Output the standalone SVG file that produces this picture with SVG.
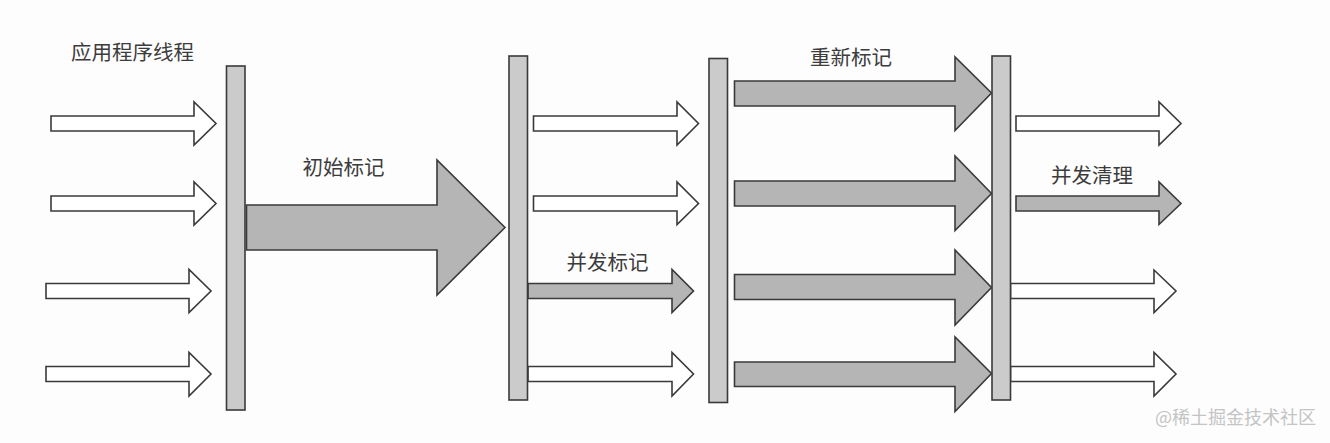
<svg xmlns="http://www.w3.org/2000/svg" width="1330" height="443" viewBox="0 0 1330 443">
<style>
.bg{fill:#fdfdfd}
.bar{fill:#cbcbcb;stroke:#3a3a3a;stroke-width:1.6}
.wa{fill:#ffffff;stroke:#3a3a3a;stroke-width:1.6;stroke-linejoin:miter}
.ga{fill:#b5b5b5;stroke:#3a3a3a;stroke-width:1.6;stroke-linejoin:miter}
.lbl{font-family:"Noto Sans CJK SC","Noto Sans",sans-serif;font-size:20.5px;fill:#3c3c3c}
.wm{font-family:"Noto Sans CJK SC","Noto Sans",sans-serif;font-size:18px;fill:#c4c4c4}
</style>
<rect class="bg" x="0" y="0" width="1330" height="443"/>
<g id="connectors">
  <!-- stage 1: application threads -->
  <polygon class="wa" points="51,116 194,116 194,102 216,123.5 194,145 194,131 51,131"/>
  <polygon class="wa" points="51,196 194,196 194,182 216,203.5 194,225 194,211 51,211"/>
  <polygon class="wa" points="46,283.5 189,283.5 189,269.5 211,291 189,312.5 189,298.5 46,298.5"/>
  <polygon class="wa" points="46,366.5 189,366.5 189,352.5 211,374 189,396 189,381.5 46,381.5"/>
  <!-- initial mark -->
  <polygon class="ga" points="246.5,205 437,205 437,160 505,227.5 437,295 437,250 246.5,250"/>
  <!-- stage 2: concurrent mark -->
  <polygon class="wa" points="533.5,116 677,116 677,102 698.5,123.5 677,145 677,131 533.5,131"/>
  <polygon class="wa" points="533.5,196 677,196 677,182 698.5,203.5 677,224.5 677,211 533.5,211"/>
  <polygon class="ga" points="528,283.5 672,283.5 672,269.5 693.5,291 672,312.5 672,298.5 528,298.5"/>
  <polygon class="wa" points="528,366.5 672,366.5 672,352.5 693.5,374 672,396 672,381.5 528,381.5"/>
  <!-- stage 3: remark -->
  <polygon class="ga" points="734.5,81 955,81 955,57 991.5,93 955,130.5 955,106 734.5,106"/>
  <polygon class="ga" points="734.5,181 955,181 955,156 991.5,193.5 955,230.5 955,206 734.5,206"/>
  <polygon class="ga" points="734.5,274.5 955,274.5 955,250 991.5,287.5 955,325 955,299.5 734.5,299.5"/>
  <polygon class="ga" points="734.5,362 955,362 955,337 991.5,373.5 955,411.5 955,386.5 734.5,386.5"/>
  <!-- stage 4: concurrent sweep -->
  <polygon class="wa" points="1016,116 1159,116 1159,102 1181,123.5 1159,145 1159,131 1016,131"/>
  <polygon class="ga" points="1016,196 1159,196 1159,182 1181,203.5 1159,224.5 1159,211 1016,211"/>
  <polygon class="wa" points="1010.5,283.5 1154,283.5 1154,270 1176,291 1154,312.5 1154,298.5 1010.5,298.5"/>
  <polygon class="wa" points="1010.5,366.5 1154,366.5 1154,352.5 1176,374 1154,396 1154,381.5 1010.5,381.5"/>
</g>
<g id="bar1"><rect class="bar" x="226.5" y="66" width="18.5" height="344"/></g>
<g id="bar2"><rect class="bar" x="509" y="56" width="18.5" height="344"/></g>
<g id="bar3"><rect class="bar" x="709" y="58.5" width="18.5" height="344"/></g>
<g id="bar4"><rect class="bar" x="992" y="56" width="18.5" height="344"/></g>
<g id="label-app"><text class="lbl" x="71" y="60">应用程序线程</text></g>
<g id="label-initial"><text class="lbl" x="302.5" y="175">初始标记</text></g>
<g id="label-concurrent-mark"><text class="lbl" x="566.5" y="270">并发标记</text></g>
<g id="label-remark"><text class="lbl" x="810" y="65">重新标记</text></g>
<g id="label-sweep"><text class="lbl" x="1051" y="183">并发清理</text></g>
<g id="watermark"><text class="wm" x="1155" y="424">@稀土掘金技术社区</text></g>
</svg>
